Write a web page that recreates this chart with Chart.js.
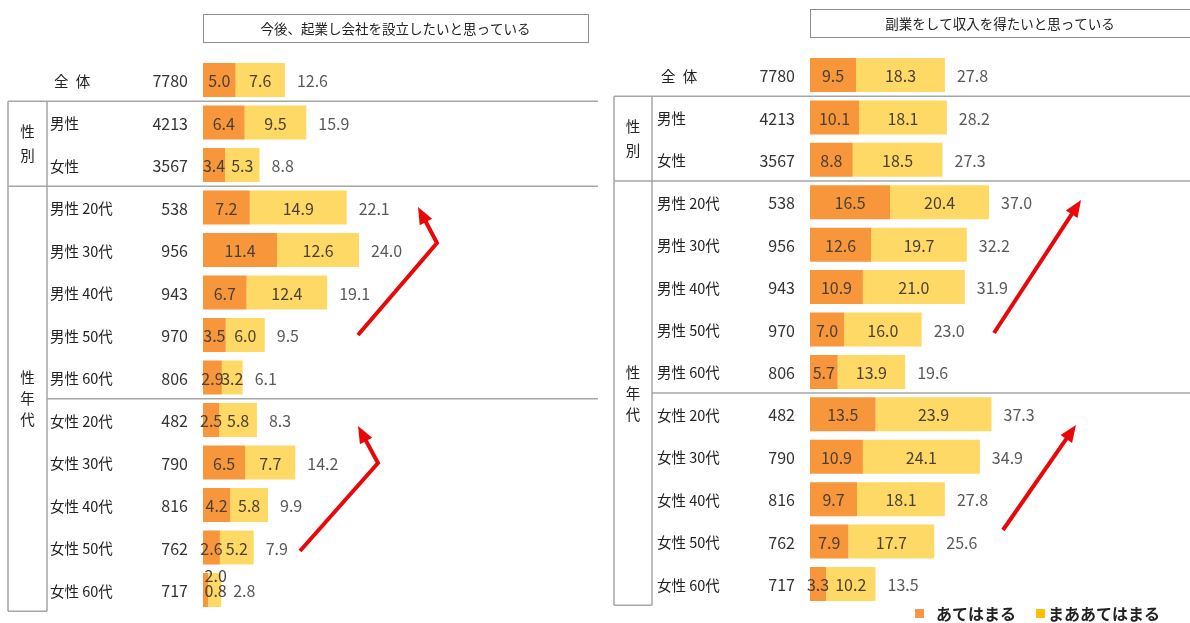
<!DOCTYPE html>
<html>
<head>
<meta charset="utf-8">
<script src="https://cdn.jsdelivr.net/npm/chart.js@4.4.0/dist/chart.umd.min.js"></script>
<style>
  body { margin: 0; background: #fff; width: 1190px; height: 623px; overflow: hidden; position: relative; }
  canvas { position: absolute; top: 0; }
  #left { left: 0; }
  #right { left: 600px; }
</style>
</head>
<body>
<canvas id="left" width="600" height="623"></canvas>
<canvas id="right" width="590" height="623"></canvas>
<script>
const categories = ['全\u2002体', '男性', '女性',
  '男性 20代', '男性 30代', '男性 40代', '男性 50代', '男性 60代',
  '女性 20代', '女性 30代', '女性 40代', '女性 50代', '女性 60代'];
const sampleSizes = [7780, 4213, 3567, 538, 956, 943, 970, 806, 482, 790, 816, 762, 717];
const seriesNames = ['あてはまる', 'まああてはまる'];

// 今後、起業し会社を設立したいと思っている
const startupYes      = [5.0, 6.4, 3.4, 7.2, 11.4, 6.7, 3.5, 2.9, 2.5, 6.5, 4.2, 2.6, 0.8];
const startupSomewhat = [7.6, 9.5, 5.3, 14.9, 12.6, 12.4, 6.0, 3.2, 5.8, 7.7, 5.8, 5.2, 2.0];
const startupTotal    = [12.6, 15.9, 8.8, 22.1, 24.0, 19.1, 9.5, 6.1, 8.3, 14.2, 9.9, 7.9, 2.8];

// 副業をして収入を得たいと思っている
const sideJobYes      = [9.5, 10.1, 8.8, 16.5, 12.6, 10.9, 7.0, 5.7, 13.5, 10.9, 9.7, 7.9, 3.3];
const sideJobSomewhat = [18.3, 18.1, 18.5, 20.4, 19.7, 21.0, 16.0, 13.9, 23.9, 24.1, 18.1, 17.7, 10.2];
const sideJobTotal    = [27.8, 28.2, 27.3, 37.0, 32.2, 31.9, 23.0, 19.6, 37.3, 34.9, 27.8, 25.6, 13.5];

const ORANGE = '#F7963A';
const YELLOW = '#FFD966';
const LINE = '#a6a6a6';
const JP = '"Noto Sans CJK JP", "Noto Sans", sans-serif';

function drawArrow(ctx, pts) {
	ctx.save();
	ctx.strokeStyle = '#E8080A';
	ctx.fillStyle = '#E8080A';
	ctx.lineWidth = 4;
	ctx.lineJoin = 'miter';
	const n = pts.length;
	const [tx, ty] = pts[n - 1];
	const [px, py] = pts[n - 2];
	const ang = Math.atan2(ty - py, tx - px);
	const headLen = 17;
	ctx.beginPath();
	ctx.moveTo(pts[0][0], pts[0][1]);
	for (let i = 1; i < n - 1; i++) ctx.lineTo(pts[i][0], pts[i][1]);
	ctx.lineTo(tx - Math.cos(ang) * headLen * 0.8, ty - Math.sin(ang) * headLen * 0.8);
	ctx.stroke();
	ctx.beginPath();
	ctx.moveTo(tx, ty);
	ctx.lineTo(tx - headLen * Math.cos(ang) + 7 * Math.sin(ang), ty - headLen * Math.sin(ang) - 7 * Math.cos(ang));
	ctx.lineTo(tx - headLen * Math.cos(ang) - 7 * Math.sin(ang), ty - headLen * Math.sin(ang) + 7 * Math.cos(ang));
	ctx.closePath();
	ctx.fill();
	ctx.restore();
}

function panelPlugin(cfg) {
	return {
		id: 'panel',
		afterDraw(chart) {
			const ctx = chart.ctx;
			const area = chart.chartArea;
			const y = chart.scales.y;
			const step = y.getPixelForValue(1) - y.getPixelForValue(0);
			const below = i => y.getPixelForValue(i) + step / 2;

			ctx.save();
			// title box
			ctx.strokeStyle = '#8c8c8c';
			ctx.lineWidth = 1;
			ctx.strokeRect(area.left + 0.5, cfg.titleTop + 0.5, cfg.titleRight - area.left, cfg.titleHeight);
			ctx.fillStyle = '#222';
			ctx.font = '13.5px ' + JP;
			ctx.textAlign = 'center';
			ctx.textBaseline = 'middle';
			ctx.fillText(cfg.title, (area.left + cfg.titleRight) / 2, cfg.titleTop + cfg.titleHeight / 2 + 1);

			// table lines
			ctx.strokeStyle = LINE;
			ctx.lineWidth = 1.5;
			const hline = (x1, x2, yy) => { ctx.beginPath(); ctx.moveTo(x1, yy); ctx.lineTo(x2, yy); ctx.stroke(); };
			const vline = (xx, y1, y2) => { ctx.beginPath(); ctx.moveTo(xx, y1); ctx.lineTo(xx, y2); ctx.stroke(); };
			const top = below(0), bottom = below(categories.length - 1);
			hline(cfg.outerX, cfg.lineEnd, top);
			hline(cfg.outerX, cfg.lineEnd, below(2));
			hline(cfg.innerX, cfg.lineEnd, below(7));
			hline(cfg.outerX, cfg.innerX, bottom);
			vline(cfg.outerX, top, bottom);
			vline(cfg.innerX, top, bottom);

			// group labels
			ctx.fillStyle = '#222';
			ctx.font = '14.5px ' + JP;
			ctx.textAlign = 'center';
			const gx = (cfg.outerX + cfg.innerX) / 2;
			const mid1 = (top + below(2)) / 2;
			ctx.fillText('性', gx, mid1 - 12);
			ctx.fillText('別', gx, mid1 + 12);
			const mid2 = (below(2) + bottom) / 2;
			ctx.fillText('性', gx, mid2 - 21);
			ctx.fillText('年', gx, mid2);
			ctx.fillText('代', gx, mid2 + 21);

			// category labels and sample sizes
			categories.forEach((c, i) => {
				const yy = y.getPixelForValue(i) + 1;
				ctx.textAlign = 'left';
				ctx.font = '14.5px ' + JP;
				ctx.fillStyle = '#222';
				ctx.fillText(c, cfg.labelX + (i === 0 ? 4 : 0), yy);
				ctx.textAlign = 'right';
				ctx.font = '16px ' + JP;
				ctx.fillStyle = '#333';
				ctx.fillText(String(sampleSizes[i]), cfg.nX, yy);
			});

			// value labels
			ctx.font = '16px ' + JP;
			const m0 = chart.getDatasetMeta(0), m1 = chart.getDatasetMeta(1);
			categories.forEach((c, i) => {
				const a = m0.data[i], b = m1.data[i];
				const yy = a.y + 1;
				ctx.fillStyle = '#4a4036';
				ctx.textAlign = 'center';
				const total = cfg.totals[i];
				ctx.fillText(chart.data.datasets[0].data[i].toFixed(1), (a.x + a.base) / 2 + (total < 3 ? 10 : 0), yy);
				ctx.fillText(chart.data.datasets[1].data[i].toFixed(1), (b.x + b.base) / 2 + (total < 3 ? 1 : 0), yy - (total < 3 ? 15 : 0));
				ctx.fillStyle = '#595959';
				ctx.textAlign = 'left';
				ctx.fillText(total.toFixed(1), b.x + 12, yy);
			});

			cfg.arrows.forEach(a => drawArrow(ctx, a));
			if (cfg.legend) cfg.legend(ctx);
			ctx.restore();
		}
	};
}

function makePanel(id, yes, somewhat, totals, xMax, padding, cfg) {
	cfg.totals = totals;
	return new Chart(document.getElementById(id), {
		type: 'bar',
		data: {
			labels: categories,
			datasets: [
				{ label: seriesNames[0], data: yes, backgroundColor: ORANGE, borderWidth: 0, barPercentage: 0.8, categoryPercentage: 1 },
				{ label: seriesNames[1], data: somewhat, backgroundColor: YELLOW, borderWidth: 0, barPercentage: 0.8, categoryPercentage: 1 }
			]
		},
		options: {
			indexAxis: 'y',
			responsive: false,
			animation: false,
			layout: { padding: padding },
			plugins: { legend: { display: false }, tooltip: { enabled: false } },
			scales: {
				x: { stacked: true, display: false, min: 0, max: xMax },
				y: { stacked: true, display: false }
			}
		},
		plugins: [panelPlugin(cfg)]
	});
}

makePanel('left', startupYes, startupSomewhat, startupTotal, 60,
	{ left: 203, right: 7, top: 58.75, bottom: 11.75 },
	{
		title: '今後、起業し会社を設立したいと思っている',
		titleTop: 14, titleHeight: 28, titleRight: 588,
		outerX: 8, innerX: 47, lineEnd: 598,
		labelX: 50, nX: 188,
		arrows: [
			[[358, 335], [437, 243], [418, 207]],
			[[300, 551], [378, 463], [358, 426]]
		]
	});

makePanel('right', sideJobYes, sideJobSomewhat, sideJobTotal, 75,
	{ left: 210, right: 16, top: 53.8, bottom: 17.8 },
	{
		title: '副業をして収入を得たいと思っている',
		titleTop: 9, titleHeight: 28, titleRight: 590,
		outerX: 14, innerX: 52, lineEnd: 590,
		labelX: 57, nX: 195,
		arrows: [
			[[394, 333], [481, 200]],
			[[403, 530], [476, 425]]
		],
		legend(ctx) {
			ctx.font = 'bold 16px ' + JP;
			ctx.textAlign = 'left';
			ctx.textBaseline = 'middle';
			ctx.fillStyle = '#F79646';
			ctx.fillRect(315, 609, 9, 9);
			ctx.fillStyle = '#222';
			ctx.fillText(seriesNames[0], 336, 614);
			ctx.fillStyle = '#FFC000';
			ctx.fillRect(436, 609, 9, 9);
			ctx.fillStyle = '#222';
			ctx.fillText(seriesNames[1], 448, 614);
		}
	});
</script>
</body>
</html>
